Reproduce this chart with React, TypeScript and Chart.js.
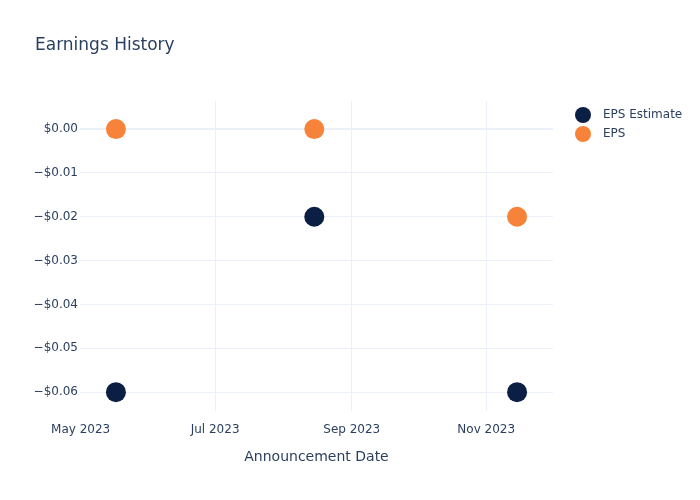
import React, { useEffect, useRef } from "react";
import { Chart, registerables } from "chart.js";

Chart.register(...registerables);

const announcementDates = ["2023-05-17", "2023-08-15", "2023-11-15"];
const epsEstimate = [-0.06, -0.02, -0.06];
const epsActual = [0.0, 0.0, -0.02];
const yTickValues = [0, -0.01, -0.02, -0.03, -0.04, -0.05, -0.06];
const xTickDates = ["2023-05-01", "2023-07-01", "2023-09-01", "2023-11-01"];
const seriesNames = ["EPS Estimate", "EPS"];
const seriesColors = ["#0b1f45", "#f7823a"];

const MONTHS = ["Jan", "Feb", "Mar", "Apr", "May", "Jun", "Jul", "Aug", "Sep", "Oct", "Nov", "Dec"];
const ts = (d: string) => Date.parse(d + "T00:00:00Z");
const FONT = "'DejaVu Sans', sans-serif";
const TEXT = "#2a3f5f";
const GRID = "#ebf0f8";

const DAY = 86400000;

export default function App() {
  const ref = useRef<HTMLCanvasElement | null>(null);
  useEffect(() => {
    if (!ref.current) return;
    const xs = announcementDates.map(ts);
    const xMin = xs[0] - 16.3 * DAY;
    const xMax = xs[xs.length - 1] + 16.3 * DAY;

    const overlay = {
      id: "overlay",
      afterDraw(chart: any) {
        const ctx = chart.ctx;
        ctx.save();
        ctx.fillStyle = TEXT;
        ctx.font = `17px ${FONT}`;
        ctx.textAlign = "left";
        ctx.textBaseline = "middle";
        ctx.fillText("Earnings History", 35, 46);
        ctx.font = `12px ${FONT}`;
        chart.data.datasets.forEach((ds: any, i: number) => {
          const y = 115 + i * 19;
          ctx.beginPath();
          ctx.arc(583, y, 8, 0, Math.PI * 2);
          ctx.fillStyle = ds.backgroundColor;
          ctx.fill();
          ctx.fillStyle = TEXT;
          ctx.fillText(ds.label, 603, y);
        });
        ctx.restore();
      },
    };

    const chart = new Chart(ref.current, {
      type: "scatter",
      data: {
        datasets: [
          {
            label: seriesNames[0],
            data: xs.map((x, i) => ({ x, y: epsEstimate[i] })),
            backgroundColor: seriesColors[0],
            borderWidth: 0,
            pointRadius: 10,
            pointHoverRadius: 10,
          },
          {
            label: seriesNames[1],
            data: xs.map((x, i) => ({ x, y: epsActual[i] })),
            backgroundColor: seriesColors[1],
            borderWidth: 0,
            pointRadius: 10,
            pointHoverRadius: 10,
          },
        ],
      },
      options: {
        responsive: false,
        animation: false,
        layout: { padding: { left: 0, top: 101, right: 147, bottom: 0 } },
        plugins: { legend: { display: false }, title: { display: false }, tooltip: { enabled: false } },
        scales: {
          x: {
            type: "linear",
            min: xMin,
            max: xMax,
            afterBuildTicks: (scale: any) => {
              scale.ticks = xTickDates.map((d) => ({ value: ts(d) }));
            },
            afterFit: (scale: any) => {
              scale.height = 89;
            },
            ticks: {
              color: TEXT,
              font: { family: FONT, size: 12 },
              padding: 12,
              maxRotation: 0,
              autoSkip: false,
              callback: (v: any) => {
                const d = new Date(Number(v));
                return `${MONTHS[d.getUTCMonth()]} ${d.getUTCFullYear()}`;
              },
            },
            grid: {
              color: (c: any) => (c.index === 0 ? "rgba(0,0,0,0)" : GRID),
              lineWidth: 1,
              drawTicks: false,
            },
            border: { display: false },
            title: {
              display: true,
              text: "Announcement Date",
              color: TEXT,
              font: { family: FONT, size: 14 },
              padding: { top: 0, bottom: 34.6 },
            },
          },
          y: {
            type: "linear",
            min: -0.0643,
            max: 0.0064,
            afterBuildTicks: (scale: any) => {
              scale.ticks = yTickValues.map((v) => ({ value: v }));
            },
            afterFit: (scale: any) => {
              scale.width = 80;
            },
            ticks: {
              color: TEXT,
              font: { family: FONT, size: 12 },
              padding: 2,
              callback: (v: any) => {
                const n = Number(v);
                const s = "$" + Math.abs(n).toFixed(2);
                return n < -1e-9 ? "\u2212" + s : s;
              },
            },
            grid: {
              color: GRID,
              drawTicks: false,
              lineWidth: (c: any) => (c.tick && Math.abs(c.tick.value) < 1e-9 ? 2 : 1),
            },
            border: { display: false },
          },
        },
      },
      plugins: [overlay],
    } as any);
    return () => chart.destroy();
  }, []);
  return (
    <div style={{ position: "absolute", left: 0, top: 0, width: 700, height: 500, background: "#fff" }}>
      <canvas ref={ref} width={700} height={500} />
    </div>
  );
}
